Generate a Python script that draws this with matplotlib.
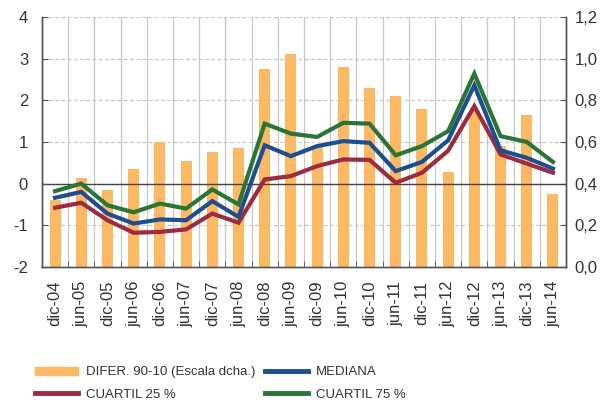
import matplotlib
matplotlib.use('Agg')
import matplotlib.pyplot as plt
import numpy as np
from matplotlib.patches import Patch
from matplotlib.lines import Line2D

fechas = ['dic-04', 'jun-05', 'dic-05', 'jun-06', 'dic-06', 'jun-07', 'dic-07',
          'jun-08', 'dic-08', 'jun-09', 'dic-09', 'jun-10', 'dic-10', 'jun-11',
          'dic-11', 'jun-12', 'dic-12', 'jun-13', 'dic-13', 'jun-14']

# diferencia percentil 90-10 (escala derecha)
difer_90_10 = [0.32, 0.427, 0.368, 0.47, 0.60, 0.508, 0.55, 0.57, 0.95, 1.02,
               0.58, 0.958, 0.858, 0.82, 0.758, 0.458, 0.75, 0.58, 0.728, 0.348]
mediana = [-0.34, -0.20, -0.72, -0.96, -0.86, -0.88, -0.42, -0.80, 0.92, 0.66,
           0.90, 1.02, 0.98, 0.30, 0.52, 1.04, 2.36, 0.80, 0.62, 0.36]
cuartil_25 = [-0.58, -0.46, -0.88, -1.18, -1.16, -1.10, -0.72, -0.94, 0.10, 0.18,
              0.42, 0.58, 0.57, 0.02, 0.26, 0.79, 1.86, 0.70, 0.48, 0.26]
cuartil_75 = [-0.18, 0.00, -0.52, -0.69, -0.48, -0.60, -0.14, -0.50, 1.44, 1.20,
              1.12, 1.46, 1.44, 0.68, 0.90, 1.26, 2.64, 1.14, 1.00, 0.52]

c_bar = '#FDB863'
c_med = '#1D4E8F'
c_q25 = '#9B2B40'
c_q75 = '#2A7536'
c_grid = '#C8C8C8'
c_txt = '#333333'

plt.rcParams['font.family'] = ['Liberation Sans', 'DejaVu Sans']
plt.rcParams['axes.unicode_minus'] = False

fig = plt.figure(figsize=(6.08, 4.05), dpi=100)
ax = fig.add_axes([0.069, 0.341, 0.862, 0.617])
ax2 = ax.twinx()
ax.set_zorder(ax2.get_zorder() + 1)
ax.patch.set_visible(False)

x = np.arange(len(fechas))

# barras y rejilla en el eje derecho
for b in np.arange(-0.5, len(fechas) + 0.5, 1):
    ax2.axvline(b, color=c_grid, lw=0.9, zorder=0)
for yv in [0.2, 0.4, 0.6, 0.8, 1.0, 1.2]:
    ax2.axhline(yv, color=c_grid, lw=0.9, ls=(0, (3, 2)), zorder=0)
ax2.bar(x, difer_90_10, width=0.42, color=c_bar, zorder=2)
ax2.set_ylim(0, 1.2)
ax2.set_yticks(np.arange(0, 1.21, 0.2))
ax2.set_yticklabels(['0,0', '0,2', '0,4', '0,6', '0,8', '1,0', '1,2'])

ax.axhline(0, color='#444444', lw=1.0, zorder=1)
ax.plot(x, cuartil_75, color=c_q75, lw=3.0, solid_joinstyle='miter', zorder=3)
ax.plot(x, cuartil_25, color=c_q25, lw=3.0, solid_joinstyle='miter', zorder=3)
ax.plot(x, mediana, color=c_med, lw=3.0, solid_joinstyle='miter', zorder=4)
ax.set_ylim(-2, 4)
ax.set_yticks(range(-2, 5))
ax.set_xlim(-0.5, len(fechas) - 0.5)
ax.set_xticks(x)
ax.set_xticklabels(fechas, rotation=90)
ax.set_xticks(np.arange(-0.5, len(fechas) + 0.5, 1), minor=True)
ax.tick_params(axis='x', which='major', length=0, pad=10)
ax.tick_params(axis='x', which='minor', direction='in', length=4, color='#555555')

for a in (ax, ax2):
    a.tick_params(axis='y', direction='in', length=4, color='#555555',
                  labelsize=12, labelcolor=c_txt)
    a.tick_params(axis='x', labelsize=12, labelcolor=c_txt)
    a.spines['top'].set_visible(False)
    for s in ('left', 'right', 'bottom'):
        a.spines[s].set_color('#555555')
        a.spines[s].set_linewidth(1.0)
ax2.tick_params(axis='y', pad=6)
ax.tick_params(axis='y', pad=10)

handles = [Patch(color=c_bar), Line2D([], [], color=c_q25, lw=3.5),
           Line2D([], [], color=c_med, lw=3.5), Line2D([], [], color=c_q75, lw=3.5)]
labels = ['DIFER. 90-10 (Escala dcha.)', 'CUARTIL 25 %', 'MEDIANA', 'CUARTIL 75 %']
fig.legend(handles, labels, ncol=2, loc='lower left', bbox_to_anchor=(0.042, -0.012),
           frameon=False, handlelength=3.3, handleheight=0.55, handletextpad=0.6,
           columnspacing=0.7, labelspacing=0.78, borderaxespad=0.3,
           prop={'size': 9.5}, labelcolor=c_txt)

fig.savefig('out.png', dpi=100)
